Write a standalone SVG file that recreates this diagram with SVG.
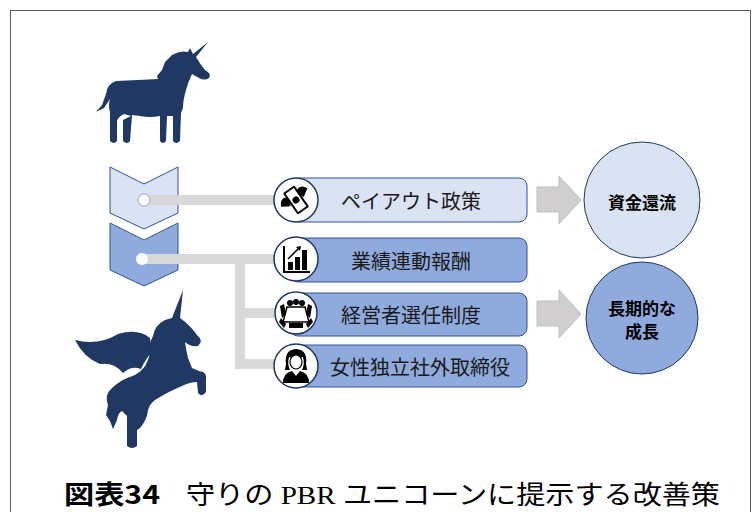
<svg xmlns="http://www.w3.org/2000/svg" width="754" height="512" viewBox="0 0 754 512">
  <style>
    .navy { fill: #203864; }
    .bar { fill: none; stroke: #D9D9D9; stroke-width: 10; }
    .box-light { fill: #DAE3F3; stroke: #2F5597; stroke-width: 1; }
    .box-mid { fill: #8FAADC; stroke: #2F5597; stroke-width: 1; }
    .icon-ring { fill: #FFFFFF; stroke: #1F3864; stroke-width: 1.5; }
    .label { font-family: "Noto Sans CJK JP", "Noto Sans", sans-serif; font-size: 20px; fill: #1A1A1A; text-anchor: middle; dominant-baseline: central; }
    .goal { font-family: "Noto Sans CJK JP", "Noto Sans", sans-serif; font-size: 17px; font-weight: bold; fill: #000000; text-anchor: middle; dominant-baseline: central; }
    .block-arrow { fill: #D0CECE; stroke: #BFBFBF; stroke-width: 1; }
    .ink { fill: #000000; }
  </style>

  <!-- outer frame -->
  <rect x="10.5" y="10.5" width="740" height="520" fill="#FFFFFF" stroke="#595959" stroke-width="1"/>

  <!-- standing unicorn silhouette -->
  <g id="unicorn">
    <path class="navy" d="M 208 42 L 196 57 Q 200 64 205 70 Q 212 74 209 78 Q 205 81 199 78 L 192 74 Q 188 82 186 90 Q 183 100 183 108 L 181 113 L 180 141 Q 176 145 173 141 L 173 116 L 167 116 L 166 141 Q 163 145 160 141 L 160 116 Q 150 118 140 116 L 132 115 L 130 141 Q 127 145 123 141 L 123 120 L 131 116 L 124 114 Q 118 117 117 121 L 117 141 Q 114 145 110 141 L 110 112 Q 108 105 110 99 L 104 108 L 96 112 L 102 105 L 106 94 Q 107 84 116 81 Q 140 80 158 79 L 157 76 L 162 70 L 165 62 L 172 55 Q 180 50 188 52 L 190 48 L 193 54 Z"/>
  </g>

  <!-- winged unicorn silhouette -->
  <g id="pegasus">
    <path class="navy" d="M 75 340 Q 98 346 118 334 Q 138 328 150 338 L 152 352 Q 146 358 141 369 Q 132 365 123 373 Q 114 362 100 364 Q 84 358 75 340 Z"/>
    <path class="navy" d="M 183 290 L 180 318 Q 190 325 197 335 Q 204 341 198 346 Q 190 347 185 342 Q 186 350 188 358 L 192 368 Q 198 371 203 372 Q 207 374 206 380 L 206 392 Q 202 398 198 393 L 197 382 Q 190 382 182 386 Q 168 392 160 397 Q 150 402 148 410 Q 147 420 140 428 L 137 430 L 137 446 Q 132 450 127 446 L 127 416 L 122 411 Q 118 413 117 420 L 113 429 L 110 421 L 106 415 L 108 405 Q 104 395 112 388 Q 120 380 135 375 Q 148 368 150 352 Q 149 343 153 336 Q 155 325 165 320 L 172 318 Z"/>
  </g>

  <!-- chevrons -->
  <g id="chevron-1">
    <path d="M 110 167 L 144 184 L 178 167 L 178 213 L 144 229 L 110 213 Z" fill="#DAE3F3" stroke="#2F5597" stroke-width="1"/>
  </g>
  <g id="chevron-2">
    <path d="M 110 223 L 144 240 L 178 223 L 178 270 L 144 286 L 110 270 Z" fill="#8FAADC" stroke="#2F5597" stroke-width="1"/>
  </g>

  <!-- connectors -->
  <g id="connectors">
    <path class="bar" d="M 144 200 H 280"/>
    <path class="bar" d="M 142 259 H 280"/>
    <path class="bar" d="M 240 259 V 364 H 280"/>
    <path class="bar" d="M 240 313 H 280"/>
    <circle cx="144" cy="200" r="6" fill="#FFFFFF" stroke="#A6A6A6" stroke-width="1"/>
    <circle cx="142" cy="259" r="6" fill="#FFFFFF"/>
    <path class="block-arrow" d="M 537 187 H 559 V 176 L 581 200 L 559 224 V 212 H 537 Z"/>
    <path class="block-arrow" d="M 537 301 H 559 V 290 L 581 314 L 559 338 V 326 H 537 Z"/>
  </g>

  <!-- measure boxes -->
  <g id="payout">
    <rect class="box-light" x="290" y="178" width="237" height="44" rx="8"/>
    <text class="label" x="411" y="200">ペイアウト政策</text>
    <circle class="icon-ring" cx="296" cy="200" r="22"/>
    <g transform="rotate(-35 296 200)">
      <path class="ink" d="M 280 197 Q 284 188 292 194 L 288 202 Z M 312 197 Q 308 188 300 194 L 304 202 Z"/>
      <rect x="289" y="187" width="14" height="26" rx="1.5" fill="#000000"/>
      <rect x="291" y="189" width="10" height="22" fill="#FFFFFF"/>
      <circle cx="296" cy="200" r="3.5" fill="#000000"/>
    </g>
  </g>

  <g id="pay-link">
    <rect class="box-mid" x="290" y="238" width="237" height="44" rx="8"/>
    <text class="label" x="411" y="260">業績連動報酬</text>
    <circle class="icon-ring" cx="296" cy="259" r="22"/>
    <path class="ink" d="M 283 246 H 285 V 271 H 310 V 273 H 283 Z"/>
    <rect class="ink" x="288" y="262" width="5" height="8"/>
    <rect class="ink" x="295" y="257" width="5" height="13"/>
    <rect class="ink" x="302" y="250" width="5" height="20"/>
    <path d="M 288 259 L 299 248" stroke="#000000" stroke-width="1.5" fill="none"/>
    <path class="ink" d="M 296 247 L 301 246 L 300 251 Z"/>
  </g>

  <g id="ceo-selection">
    <rect class="box-mid" x="290" y="293" width="237" height="43" rx="8"/>
    <text class="label" x="411" y="314">経営者選任制度</text>
    <circle class="icon-ring" cx="296" cy="313" r="21"/>
    <path d="M 287 307 H 305 L 309 322 H 283 Z" fill="#FFFFFF" stroke="#000000" stroke-width="1.5"/>
    <circle class="ink" cx="290" cy="303" r="3"/>
    <circle class="ink" cx="296" cy="302" r="3"/>
    <circle class="ink" cx="302" cy="303" r="3"/>
    <path class="ink" d="M 280 306 L 284 304 L 286 314 L 282 318 Z M 312 306 L 308 304 L 306 314 L 310 318 Z"/>
    <path class="ink" d="M 281 318 L 286 324 L 284 328 L 279 322 Z M 311 318 L 306 324 L 308 328 L 313 322 Z"/>
    <rect class="ink" x="289" y="323" width="14" height="5"/>
  </g>

  <g id="female-director">
    <rect class="box-mid" x="290" y="345" width="237" height="42" rx="8"/>
    <text class="label" x="420" y="366" font-size="19.5">女性独立社外取締役</text>
    <circle class="icon-ring" cx="296" cy="366" r="22"/>
    <path class="ink" d="M 286 364 Q 284 350 296 349 Q 308 350 306 364 L 307 370 L 302 370 Q 305 364 303 357 Q 296 360 289 357 Q 287 364 290 370 L 285 370 Z"/>
    <ellipse cx="296" cy="362" rx="6" ry="7" fill="#FFFFFF" stroke="#000000" stroke-width="1.2"/>
    <path class="ink" d="M 283 383 Q 283 373 292 371 L 296 376 L 300 371 Q 309 373 309 383 Z"/>
  </g>

  <!-- outcomes -->
  <g id="capital-return">
    <circle cx="642" cy="200" r="58" fill="#DAE3F3" stroke="#1F3864" stroke-width="1"/>
    <text class="goal" x="642" y="201">資金還流</text>
  </g>
  <g id="long-term-growth">
    <circle cx="642" cy="318" r="56" fill="#8FAADC" stroke="#1F3864" stroke-width="1"/>
    <text class="goal" x="642" y="307">長期的な</text>
    <text class="goal" x="642" y="330">成長</text>
  </g>

  <!-- caption -->
  <text x="64" y="504" font-family="'Noto Sans CJK JP', 'Noto Sans', sans-serif" font-size="26" font-weight="bold" fill="#000000" textLength="96" lengthAdjust="spacingAndGlyphs">図表34</text>
  <text x="186" y="504" font-family="'Liberation Serif', 'Noto Sans CJK JP', serif" font-size="26" fill="#000000" textLength="534" lengthAdjust="spacingAndGlyphs">守りの PBR ユニコーンに提示する改善策</text>
</svg>
